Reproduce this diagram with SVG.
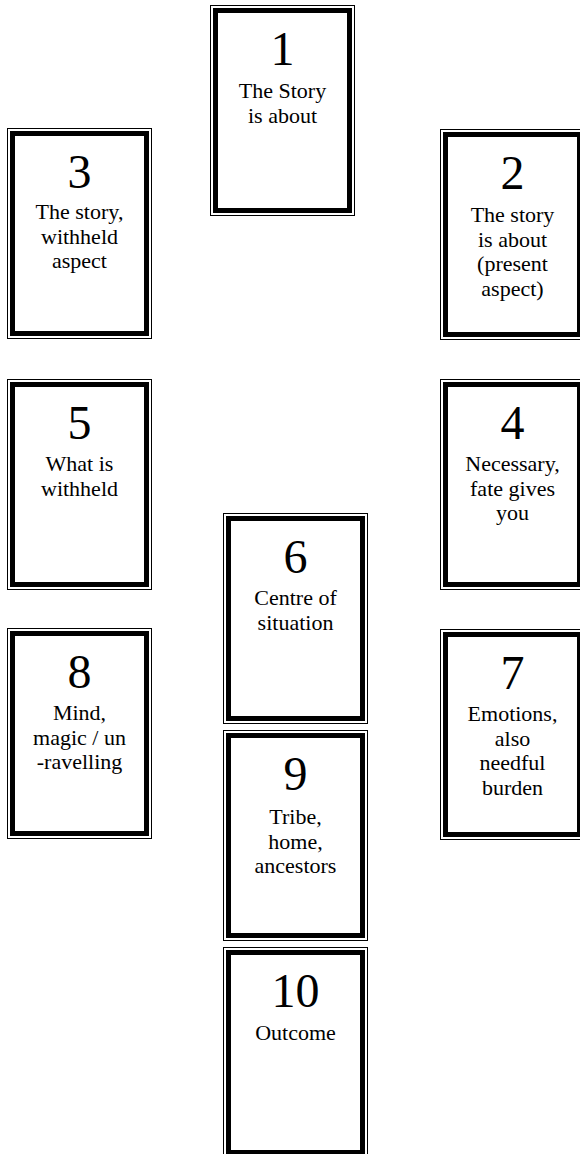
<svg xmlns="http://www.w3.org/2000/svg" width="580" height="1154" viewBox="0 0 580 1154">
<style>
.o{fill:#fff;stroke:#000;stroke-width:1}
.b{fill:none;stroke:#000;stroke-width:5}
text{font-family:"Liberation Serif","Times New Roman",serif;fill:#000;text-anchor:middle}
.n{font-size:48px}
.t{font-size:22px}
</style>
<defs>
<g id="card">
<rect class="o" x="0.5" y="0.5" width="144" height="210"/>
<rect class="b" x="5.5" y="5.5" width="134" height="200"/>
</g>
</defs>
<rect width="580" height="1154" fill="#fff"/>
<g id="connectors"/>
<g id="card1" transform="translate(210,5)"><use href="#card"/><text class="n" x="72.5" y="60">1</text><text class="t" x="72.5" y="93">The Story</text><text class="t" x="72.5" y="117.5">is about</text></g>
<g id="card2" transform="translate(440,129)"><use href="#card"/><text class="n" x="72.5" y="60">2</text><text class="t" x="72.5" y="93">The story</text><text class="t" x="72.5" y="117.5">is about</text><text class="t" x="72.5" y="142">(present</text><text class="t" x="72.5" y="166.5">aspect)</text></g>
<g id="card3" transform="translate(7,128)"><use href="#card"/><text class="n" x="72.5" y="60">3</text><text class="t" x="72.5" y="91">The story,</text><text class="t" x="72.5" y="115.5">withheld</text><text class="t" x="72.5" y="140">aspect</text></g>
<g id="card4" transform="translate(440,379)"><use href="#card"/><text class="n" x="72.5" y="60">4</text><text class="t" x="72.5" y="92">Necessary,</text><text class="t" x="72.5" y="116.5">fate gives</text><text class="t" x="72.5" y="141">you</text></g>
<g id="card5" transform="translate(7,379)"><use href="#card"/><text class="n" x="72.5" y="60">5</text><text class="t" x="72.5" y="92">What is</text><text class="t" x="72.5" y="116.5">withheld</text></g>
<g id="card6" transform="translate(223,513)"><use href="#card"/><text class="n" x="72.5" y="60">6</text><text class="t" x="72.5" y="92">Centre of</text><text class="t" x="72.5" y="116.5">situation</text></g>
<g id="card7" transform="translate(440,629)"><use href="#card"/><text class="n" x="72.5" y="60">7</text><text class="t" x="72.5" y="92">Emotions,</text><text class="t" x="72.5" y="116.5">also</text><text class="t" x="72.5" y="141">needful</text><text class="t" x="72.5" y="165.5">burden</text></g>
<g id="card8" transform="translate(7,628)"><use href="#card"/><text class="n" x="72.5" y="60">8</text><text class="t" x="72.5" y="92">Mind,</text><text class="t" x="72.5" y="116.5">magic / un</text><text class="t" x="72.5" y="141">-ravelling</text></g>
<g id="card9" transform="translate(223,730)"><use href="#card"/><text class="n" x="72.5" y="60">9</text><text class="t" x="72.5" y="94">Tribe,</text><text class="t" x="72.5" y="118.5">home,</text><text class="t" x="72.5" y="143">ancestors</text></g>
<g id="card10" transform="translate(223,947)"><use href="#card"/><text class="n" x="72.5" y="60">10</text><text class="t" x="72.5" y="93">Outcome</text></g>
</svg>
